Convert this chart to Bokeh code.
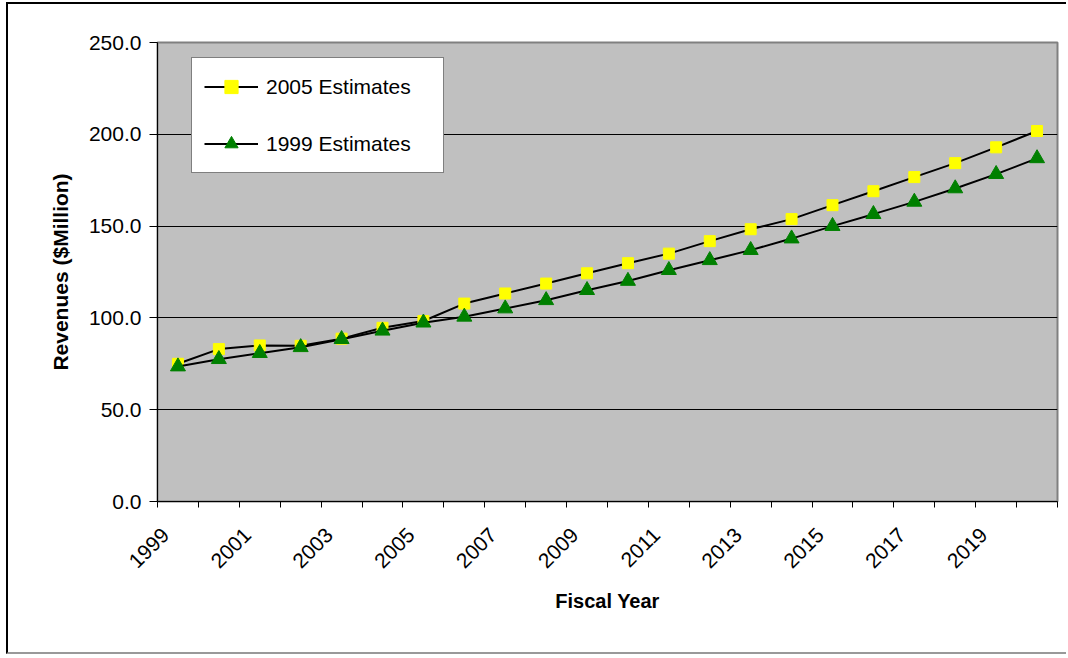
from bokeh.plotting import figure
from bokeh.models import (Range1d, FixedTicker, NumeralTickFormatter, Legend, LegendItem,
                          ColumnDataSource, LinearAxis)
from bokeh.embed import file_html
from bokeh.resources import INLINE

years = list(range(1999, 2021))
est_2005 = [75.0, 83.0, 85.0, 84.8, 88.7, 94.6, 98.3, 107.8, 113.3, 118.7, 124.3,
            129.8, 135.0, 141.8, 148.3, 153.8, 161.4, 169.0, 176.7, 184.3, 192.9, 201.8]
est_1999 = [73.5, 77.5, 80.8, 84.0, 88.4, 93.0, 97.4, 100.6, 105.1, 109.6, 115.1,
            120.1, 126.0, 131.4, 136.9, 143.2, 150.0, 156.5, 163.2, 170.5, 178.3, 186.9]
tick_labels = ["1999", "2001", "2003", "2005", "2007", "2009", "2011", "2013",
               "2015", "2017", "2019"]
y_ticks = [0, 50, 100, 150, 200, 250]
series_names = ["2005 Estimates", "1999 Estimates"]

FONT = "Liberation Sans"

W, H = 1060, 652
p = figure(width=W, height=H, output_backend="svg", toolbar_location=None,
           x_range=Range1d(years[0] - 0.5, years[-1] + 0.5),
           y_range=Range1d(0, 250),
           min_border_left=149, min_border_right=11, min_border_top=38,
           min_border_bottom=155)
p.margin = (2, 0, 0, 6)
p.styles = {"border-left": "2px solid #000000", "border-top": "2px solid #000000",
            "border-bottom": "2px solid #999999"}

p.background_fill_color = "#C0C0C0"
p.border_fill_color = "white"
p.outline_line_color = "#808080"
p.outline_line_width = 2

# x axis 1: tick marks at category boundaries, no labels
boundaries = [y - 0.5 for y in years] + [years[-1] + 0.5]
xa = p.xaxis[0]
xa.ticker = FixedTicker(ticks=boundaries)
xa.major_label_overrides = {b: "" for b in boundaries}
xa.major_label_text_font_size = "0px"
xa.major_label_standoff = 0
xa.major_tick_out = 6
xa.major_tick_in = 0
xa.minor_tick_line_color = None
xa.axis_line_color = "black"
xa.axis_line_width = 1
xa.major_tick_line_color = "black"

# x axis 2: rotated year labels
label_pos = [years[0] - 0.5 + 2 * i + 0.2 for i in range(len(tick_labels))]
xl = LinearAxis(ticker=FixedTicker(ticks=label_pos))
xl.major_label_overrides = {pos: lab for pos, lab in zip(label_pos, tick_labels)}
xl.major_label_orientation = 0.785398
xl.major_label_text_font = FONT
xl.major_label_text_font_size = "21px"
xl.major_label_text_color = "black"
xl.major_label_standoff = 24
xl.major_tick_out = 0
xl.major_tick_in = 0
xl.major_tick_line_color = None
xl.minor_tick_line_color = None
xl.axis_line_color = None
xl.axis_label = "Fiscal Year"
xl.axis_label_text_font = FONT
xl.axis_label_text_font_style = "bold"
xl.axis_label_text_font_size = "20px"
xl.axis_label_text_color = "black"
xl.axis_label_standoff = 13
p.add_layout(xl, "below")

ya = p.yaxis[0]
ya.ticker = FixedTicker(ticks=y_ticks)
ya.formatter = NumeralTickFormatter(format="0.0")
ya.major_label_text_font = FONT
ya.major_label_text_font_size = "21px"
ya.major_label_text_color = "black"
ya.major_label_standoff = 8
ya.major_tick_out = 8
ya.major_tick_in = 0
ya.minor_tick_line_color = None
ya.axis_line_color = "black"
ya.major_tick_line_color = "black"
ya.axis_label = "Revenues ($Million)"
ya.axis_label_text_font = FONT
ya.axis_label_text_font_style = "bold"
ya.axis_label_text_font_size = "21px"
ya.axis_label_text_color = "black"
ya.axis_label_standoff = 14

p.xgrid.grid_line_color = None
p.ygrid.ticker = FixedTicker(ticks=y_ticks)
p.ygrid.grid_line_color = "black"
p.ygrid.grid_line_width = 1

src = ColumnDataSource(dict(x=years, a=est_2005, b=est_1999))
l1 = p.line("x", "a", source=src, line_color="black", line_width=2)
m1 = p.scatter("x", "a", source=src, marker="square", size=11,
               fill_color="#FFFF00", line_color="#FFFF00")
l2 = p.line("x", "b", source=src, line_color="black", line_width=2)
m2 = p.scatter("x", "b", source=src, marker="triangle", size=15,
               fill_color="#008000", line_color="#008000")

legend = Legend(items=[LegendItem(label=series_names[0], renderers=[l1, m1]),
                       LegendItem(label=series_names[1], renderers=[l2, m2])],
                location=(34, 328))
legend.label_text_font = FONT
legend.label_text_font_size = "21px"
legend.label_text_color = "black"
legend.glyph_width = 54
legend.glyph_height = 33
legend.label_height = 33
legend.label_width = 165
legend.label_standoff = 8
legend.padding = 12
legend.spacing = 24
legend.margin = 0
legend.border_line_color = "black"
legend.border_line_width = 1
legend.background_fill_color = "white"
legend.background_fill_alpha = 1
p.add_layout(legend, "center")

open("out.html", "w").write(file_html(p, INLINE))
